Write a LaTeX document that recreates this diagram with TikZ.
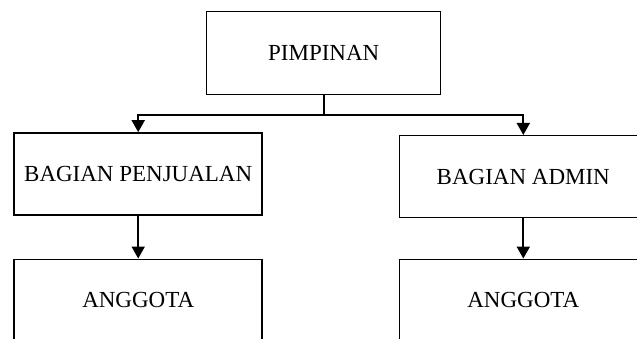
\documentclass[tikz,border=0pt]{standalone}
\usepackage{fontspec}
\setmainfont{Liberation Serif}
\usetikzlibrary{arrows.meta,calc,positioning}

\tikzset{
  unitbox/.style={draw=black, line width=1.5pt, fill=white, inner sep=0pt,
    minimum width=248pt, minimum height=82pt,
    font=\fontsize{23}{27}\selectfont},
  link/.style={line width=1.9pt, -{Triangle[length=12pt,width=13pt]}}
}

\begin{document}
\begin{tikzpicture}[x=1pt, y=-1pt]
  \useasboundingbox (0,0) rectangle (637,338);
  \clip (0,0) rectangle (637,338);

  % Top
  \node[unitbox, minimum width=234pt, minimum height=83pt] (pimpinan) at (323.7,53) {PIMPINAN};

  % Divisions
  \node[unitbox] (penjualan) at (138.2,173.9) {BAGIAN PENJUALAN};
  \node[unitbox] (admin) at (523.3,176.7) {BAGIAN ADMIN};

  % Members
  \node[unitbox] (anggotaA) at (138.2,300.3) {ANGGOTA};
  \node[unitbox] (anggotaB) at (523.3,300.3) {ANGGOTA};

  % Links
  \coordinate (split) at (323.7,114.7);
  \draw[line width=1.9pt] (pimpinan.south) -- (split);
  \draw[link] (split) -| (penjualan.north);
  \draw[link] (split) -| (admin.north);
  \draw[link] (penjualan) -- (anggotaA);
  \draw[link] (admin) -- (anggotaB);
\end{tikzpicture}
\end{document}
